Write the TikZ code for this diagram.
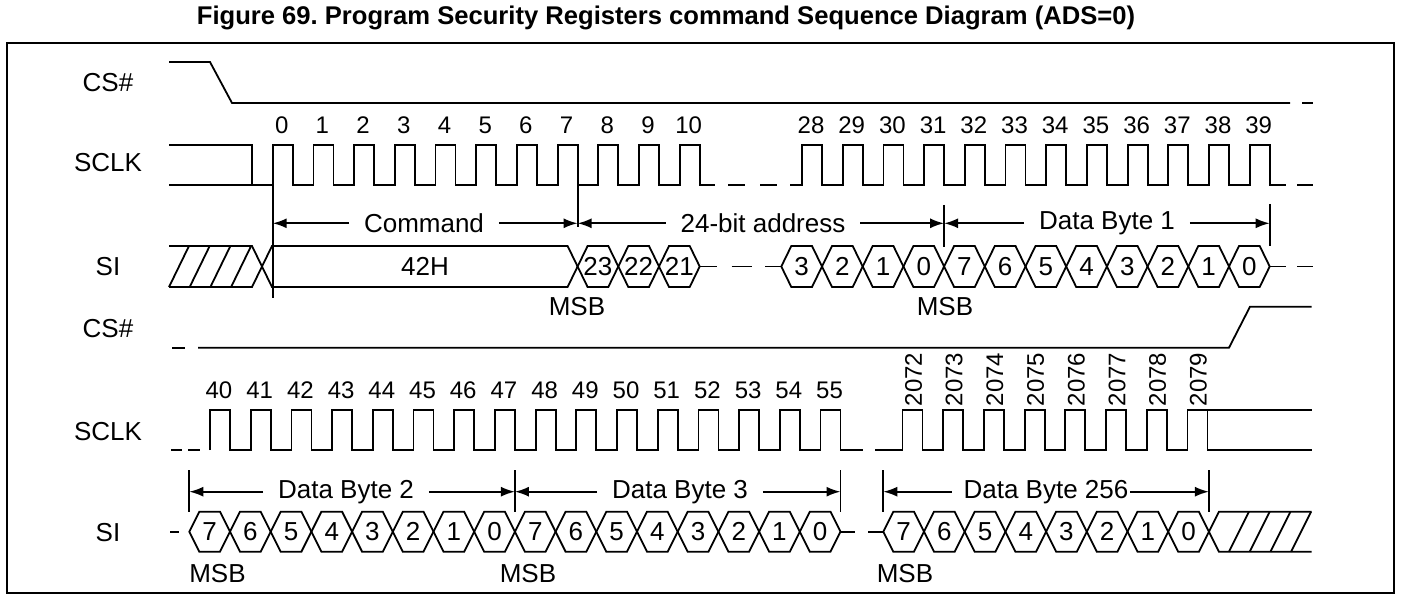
\documentclass[tikz,border=0pt]{standalone}
\usepackage{fontspec}
\setmainfont{Liberation Sans}
\usetikzlibrary{arrows.meta}
\tikzset{>={Latex[length=7pt,width=5pt]}}
\frenchspacing
\newcommand{\per}{40.7}
% one row of bus cells: start x, middle y, half height, name prefix, labels
\newcommand{\hexbus}[5]{%
  \foreach \b [count=\k from 0] in {#5} {
    \draw ({#1+\k*\per},#2) -- ++(10,-#3) -- ++(\per-20,0) -- ++(10,#3)
          -- ++(-10,#3) -- ++(20-\per,0) -- cycle;
    \node[bit] (#4\k) at ({#1+(\k+0.5)*\per},#2) {\b};
  }}

\begin{document}
\begin{tikzpicture}[x=0.5pt, y=-0.5pt, line width=0.9pt,
    font=\fontsize{13}{15}\selectfont,
    num/.style={font=\fontsize{12}{14}\selectfont, inner sep=0pt},
    bit/.style={font=\fontsize{13}{14}\selectfont, inner sep=0pt},
    span/.style={fill=white, inner xsep=7pt, inner ysep=1pt}]

    \useasboundingbox (0,0) rectangle (1403,604);

    % 1. Title and frame
    \node[font=\bfseries\fontsize{12.8}{15}\selectfont] (title) at (666,18)
        {Figure 69. Program Security Registers command Sequence Diagram (ADS=0)};
    \draw[line width=1.1pt] (7,43) rectangle (1394,593);

    % 2. Signal names
    \node (cs1) at (108,83) {CS\#};
    \node (sclk1) at (108,163) {SCLK};
    \node (si1) at (108,267) {SI};
    \node (cs2) at (108,329) {CS\#};
    \node (sclk2) at (108,432) {SCLK};
    \node (si2) at (108,533) {SI};

    % 3. CS# goes low (first row)
    \draw (169,62) -- (210,62) -- (232,103) -- (1290,103);
    \draw (1302,103) -- (1313,103);

    % 4. SCLK, clocks 0-10 and 28-39
    \draw (169,145) -- (252,145) -- (252,185);
    \draw (169,185) foreach \k in {0,...,10} {
        -- ({272.7+\k*\per},185) -- ++(0,-40) -- ++(20,0) -- ++(0,40) } -- (715,185);
    \draw (728,185) -- (745,185) (760,185) -- (777,185);
    \draw (790,185) foreach \k in {0,...,11} {
        -- ({802+\k*\per},185) -- ++(0,-40) -- ++(20,0) -- ++(0,40) } -- (1286,185);
    \draw (1297,185) -- (1313,185);
    \foreach \n [count=\k from 0] in {0,...,10}
        \node[num] (n\n) at ({281.7+\k*\per},125) {\n};
    \foreach \n [count=\k from 0] in {28,...,39}
        \node[num] (n\n) at ({811+\k*\per},125) {\n};

    % 5. SI: don't care, command, address, data byte 1
    \draw (169,246) -- (252,246) -- (262,266.5) -- (252,287) -- (169,287);
    \foreach \k in {0,...,3}
        \draw ({169+\k*20.7},287) -- ++(20,-41);
    \draw (262,266.5) -- (272,246) -- (567.6,246) -- (577.6,266.5)
          -- (567.6,287) -- (272,287) -- cycle;
    \node[bit] (op) at (425,266.5) {42H};
    \hexbus{577.6}{266.5}{20.5}{ah}{23,22,21}
    \draw (699.7,266.5) -- (716.7,266.5) (731.7,266.5) -- (751.7,266.5)
          (765,266.5) -- (781.3,266.5);
    \hexbus{781.3}{266.5}{20.5}{al}{3,2,1,0}
    \hexbus{944.1}{266.5}{20.5}{da}{7,6,5,4,3,2,1,0}
    \draw (1269.7,266.5) -- (1286,266.5) (1297,266.5) -- (1313,266.5);

    % 6. Markers and spans (first row)
    \foreach \x/\ya/\yb [count=\i] in {272.7/185/298,577.6/185/227,944.1/205/247,1269.7/204/246} {
        \draw (\x,\ya) -- (\x,\yb);
        \coordinate (m\i) at (\x,223.3);
    }
    \node[span] (cmd) at (424,223.3) {Command};
    \node[span] (addr) at (763,223.3) {24-bit address};
    \node[span] (db1) at (1107,223.3) {Data Byte 1};
    \draw[->] (cmd) -- (m1);  \draw[->] (cmd) -- (m2);
    \draw[->] (addr) -- (m2); \draw[->] (addr) -- (m3);
    \draw[->] (db1) -- (m3);  \draw[->] (db1) -- (m4);
    \node (msb1) at (577,306.7) {MSB};
    \node (msb2) at (945,306.7) {MSB};

    % 7. CS# goes high (second row)
    \draw (172,347.7) -- (185,347.7);
    \draw (198,347.7) -- (1229,347.7) -- (1250,306.7) -- (1311.7,306.7);

    % 8. SCLK, clocks 40-55 and 2072-2079
    \draw (171,450) -- (182,450) (188,450) -- (200,450);
    \draw (210,450) foreach \k in {0,...,15} {
        -- ({210+\k*\per},450) -- ++(0,-40) -- ++(20,0) -- ++(0,40) } -- (863.3,450);
    \draw (875,450) foreach \k in {0,...,6} {
        -- ({902.5+\k*\per},450) -- ++(0,-40) -- ++(20,0) -- ++(0,40) }
        -- ({902.5+7*\per},450) -- ++(0,-40) -- (1311.7,410);
    \draw ({922.5+7*\per},410) -- ++(0,40) -- (1311.7,450);
    \foreach \n [count=\k from 0] in {40,...,55}
        \node[num] (n\n) at ({219+\k*\per},390) {\n};
    \foreach \n [count=\k from 0] in {2072,...,2079}
        \node[num, rotate=90, anchor=west] (n\n) at ({913.5+\k*\per},407) {\n};

    % 9. SI: data bytes 2, 3 ... 256, then don't care
    \draw (170,531.7) -- (179,531.7);
    \hexbus{189.3}{531.7}{20}{db}{7,6,5,4,3,2,1,0,7,6,5,4,3,2,1,0}
    \draw (840.5,531.7) -- (855,531.7) (868,531.7) -- (883.3,531.7);
    \hexbus{883.3}{531.7}{20}{dz}{7,6,5,4,3,2,1,0}
    \draw (1208.9,531.7) -- (1218.9,511.7) -- (1311.7,511.7)
          (1208.9,531.7) -- (1218.9,551.7) -- (1311.7,551.7);
    \foreach \k in {0,...,3}
        \draw ({1229+\k*20.7},551.7) -- ++(20,-40);

    % 10. Markers and spans (second row)
    \foreach \x [count=\i] in {189.3,514.9,840.5,883.3,1208.9} {
        \draw (\x,470) -- (\x,511.7);
        \coordinate (q\i) at (\x,491.7);
    }
    \node[span] (db2) at (346,491.7) {Data Byte 2};
    \node[span] (db3) at (680,491.7) {Data Byte 3};
    \node[span, inner xsep=0.5pt] (db256) at (1046,491.7) {Data Byte 256};
    \draw[->] (db2) -- (q1); \draw[->] (db2) -- (q2);
    \draw[->] (db3) -- (q2); \draw[->] (db3) -- (q3);
    \draw[->] ([xshift=-5pt]db256.west) -- (q4); \draw[->] (db256) -- (q5);
    \node (msb3) at (217.5,573.3) {MSB};
    \node (msb4) at (528,573.3) {MSB};
    \node (msb5) at (905,573.3) {MSB};
\end{tikzpicture}
\end{document}
